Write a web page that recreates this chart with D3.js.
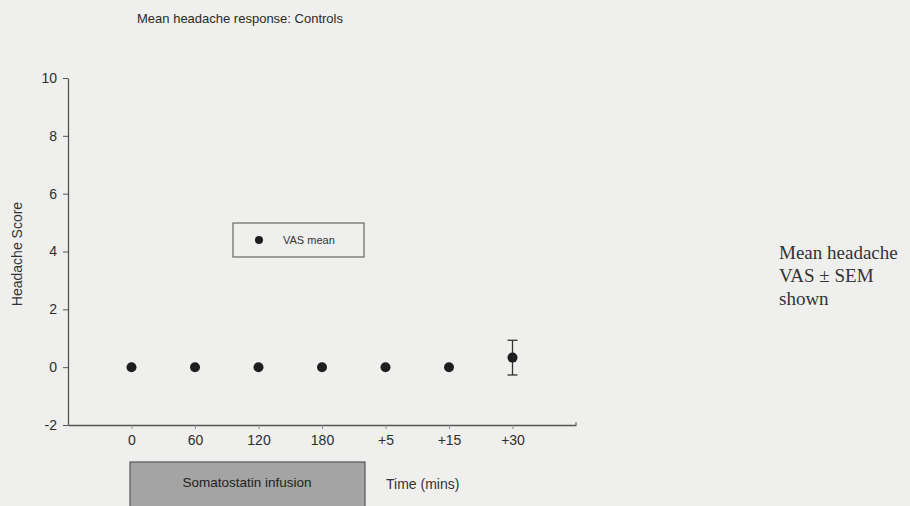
<!DOCTYPE html>
<html><head><meta charset="utf-8">
<script src="https://cdn.jsdelivr.net/npm/d3@7"></script>
<style>
html,body{margin:0;padding:0;background:#efefed;}
svg{display:block;}
text{font-family:Arial,"Liberation Sans",sans-serif;}
</style></head>
<body>
<svg id="chart" width="910" height="506"></svg>
<script>
const categories = ["0","60","120","180","+5","+15","+30"];
const vasMean = [0,0,0,0,0,0,0.33];
const vasSem = [0,0,0,0,0,0,0.6];
const yTicks = [-2,0,2,4,6,8,10];
const title = "Mean headache response: Controls";
const yLabel = "Headache Score";
const xLabel = "Time (mins)";
const infusionLabel = "Somatostatin infusion";
const legendLabel = "VAS mean";
const noteLines = ["Mean headache","VAS \u00b1 SEM","shown"];

const svg = d3.select("#chart");
svg.append("rect").attr("width",910).attr("height",506).attr("fill","#efefed");

const x = d3.scaleLinear().domain([0,8]).range([68,576]);
const y = d3.scaleLinear().domain([-2,10]).range([425,78]);
const axisColor = "#555";

// y axis
const ya = svg.append("g").attr("transform","translate(68,0)")
  .call(d3.axisLeft(y).tickValues(yTicks).tickSize(5).tickSizeOuter(0).tickFormat(d=>String(d)));
ya.select(".domain").attr("stroke",axisColor).attr("stroke-width",1.3);
ya.selectAll(".tick line").attr("stroke",axisColor);
ya.selectAll(".tick text").attr("font-size",14).attr("fill","#2e2e2e").attr("dx",-3);

// x axis
const xa = svg.append("g").attr("transform","translate(0,425)")
  .call(d3.axisBottom(x).tickValues(d3.range(1,8)).tickSize(4).tickSizeOuter(0).tickFormat(i=>categories[i-1]));
xa.select(".domain").attr("stroke",axisColor).attr("stroke-width",1.3);
xa.selectAll(".tick line").attr("stroke","#888");
xa.selectAll(".tick text").attr("font-size",14).attr("fill","#2e2e2e").attr("dy",13);
xa.append("line").attr("x1",576).attr("x2",576).attr("y1",0).attr("y2",-3).attr("stroke",axisColor);

// error bars
const data = categories.map((c,i)=>({c,i:i+1,m:vasMean[i],s:vasSem[i]}));
const eb = svg.append("g");
data.filter(d=>d.s>0).forEach(d=>{
  const cx=x(d.i);
  eb.append("line").attr("x1",cx).attr("x2",cx).attr("y1",y(d.m+d.s)).attr("y2",y(d.m-d.s)).attr("stroke","#333").attr("stroke-width",1.3);
  [d.m+d.s,d.m-d.s].forEach(v=>eb.append("line").attr("x1",cx-5).attr("x2",cx+5).attr("y1",y(v)).attr("y2",y(v)).attr("stroke","#333").attr("stroke-width",1.3));
});

// points
svg.append("g").selectAll("circle").data(data).join("circle")
  .attr("cx",d=>x(d.i)).attr("cy",d=>y(d.m)).attr("r",5).attr("fill","#1e1e1e");

// title
svg.append("text").attr("x",240).attr("y",23).attr("text-anchor","middle").attr("font-size",13).attr("fill","#2a2a2a").text(title);

// y label
svg.append("text").attr("transform","translate(22,254) rotate(-90)").attr("text-anchor","middle").attr("font-size",14).attr("fill","#333").text(yLabel);

// legend
svg.append("rect").attr("x",233).attr("y",223).attr("width",131).attr("height",34).attr("fill","none").attr("stroke","#666").attr("stroke-width",1.2);
svg.append("circle").attr("cx",259).attr("cy",240).attr("r",4).attr("fill","#1e1e1e");
svg.append("text").attr("x",283).attr("y",244).attr("font-size",11).attr("fill","#333").text(legendLabel);

// infusion box
svg.append("rect").attr("x",130).attr("y",462).attr("width",235).attr("height",50).attr("fill","#a4a4a4").attr("stroke","#555").attr("stroke-width",1.2);
svg.append("text").attr("x",247).attr("y",487).attr("text-anchor","middle").attr("font-size",13.5).attr("fill","#222").text(infusionLabel);
svg.append("text").attr("x",386).attr("y",489).attr("font-size",14).attr("fill","#333").text(xLabel);

// note
svg.append("g").selectAll("text").data(noteLines).join("text")
  .attr("x",779).attr("y",(d,i)=>259+i*23).attr("font-size",19).attr("fill","#333")
  .style("font-family","'Liberation Serif','Times New Roman',serif").text(d=>d);
</script>
</body></html>
